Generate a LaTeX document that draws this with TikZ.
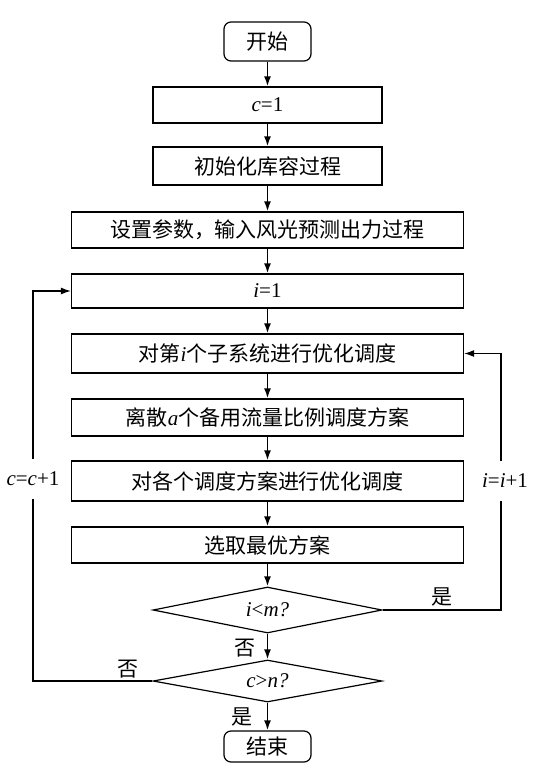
\documentclass[tikz,border=0pt]{standalone}
\usepackage{fontspec}
\setmainfont{Liberation Serif}
\newfontfamily\cjk{Noto Sans CJK SC}
\usetikzlibrary{shapes.geometric,arrows.meta}
\tikzset{
  base/.style={draw, line width=1.2pt, inner sep=0pt, font=\fontsize{21pt}{25pt}\selectfont},
  procbox/.style={base, rectangle},
  termbox/.style={base, rectangle, rounded corners=7pt},
  decbox/.style={base, diamond, aspect=5},
  flow/.style={line width=1.8pt, -{Latex[length=10pt,width=7pt]}},
  loopline/.style={line width=1.2pt, -{Latex[length=10pt,width=7pt]}},
  lbl/.style={inner sep=0pt, font=\fontsize{21pt}{25pt}\selectfont},
  gaplbl/.style={fill=white, inner xsep=1pt, minimum height=40pt, font=\fontsize{21pt}{25pt}\selectfont}
}
\begin{document}
\begin{tikzpicture}[x=1pt,y=-1pt]
\useasboundingbox (0,0) rectangle (539,777);
\node[termbox, minimum width=87pt, minimum height=39pt] (start) at (267.5,41.5) {\cjk 开始};
\node[procbox, minimum width=229pt, minimum height=36pt] (c1) at (267.5,105) {\textit{c}=1};
\node[procbox, minimum width=229pt, minimum height=38pt] (init) at (267.5,166) {\cjk 初始化库容过程};
\node[procbox, minimum width=392pt, minimum height=36pt] (set) at (267.5,230) {\cjk 设置参数，输入风光预测出力过程};
\node[procbox, minimum width=392pt, minimum height=34pt] (i1) at (267.5,291) {\textit{i}=1};
\node[procbox, minimum width=392pt, minimum height=39pt] (sub) at (267.5,353.5) {{\cjk 对第}\textit{i}{\cjk 个子系统进行优化调度}};
\node[procbox, minimum width=392pt, minimum height=37pt] (disc) at (267.5,417.5) {{\cjk 离散}\textit{a}{\cjk 个备用流量比例调度方案}};
\node[procbox, minimum width=392pt, minimum height=40pt] (each) at (267.5,481) {\cjk 对各个调度方案进行优化调度};
\node[procbox, minimum width=392pt, minimum height=36pt] (sel) at (267.5,545) {\cjk 选取最优方案};
\node[decbox, minimum width=229pt, minimum height=46pt] (d1) at (267.5,610) {\textit{i}<\textit{m?}};
\node[decbox, minimum width=229pt, minimum height=42pt] (d2) at (267.5,681) {\textit{c}>\textit{n?}};
\node[termbox, minimum width=87pt, minimum height=31pt] (end) at (267.5,746.5) {\cjk 结束};

\draw[flow] (start) -- (c1);
\draw[flow] (c1) -- (init);
\draw[flow] (init) -- (set);
\draw[flow] (set) -- (i1);
\draw[flow] (i1) -- (sub);
\draw[flow] (sub) -- (disc);
\draw[flow] (disc) -- (each);
\draw[flow] (each) -- (sel);
\draw[flow] (sel) -- (d1);
\draw[flow] (d1) -- (d2);
\draw[flow] (d2) -- (end);

\coordinate (lcorner) at (33,681);
\coordinate (rcorner) at (501,610);
\draw[loopline] (d2.west) -- (lcorner) |- (i1.west);
\draw[loopline] (d1.east) -- (rcorner) |- (sub.east);

\node[gaplbl] (cinc) at (33,479) {\textit{c}=\textit{c}+1};
\node[gaplbl] (iinc) at (505,481) {\textit{i}=\textit{i}+1};

\node[lbl] (no1) at (245,648) {\cjk 否};
\node[lbl] (yes2) at (242,717) {\cjk 是};
\node[lbl] (no2) at (128,669) {\cjk 否};
\node[lbl] (yes1) at (442,597) {\cjk 是};
\end{tikzpicture}
\end{document}
